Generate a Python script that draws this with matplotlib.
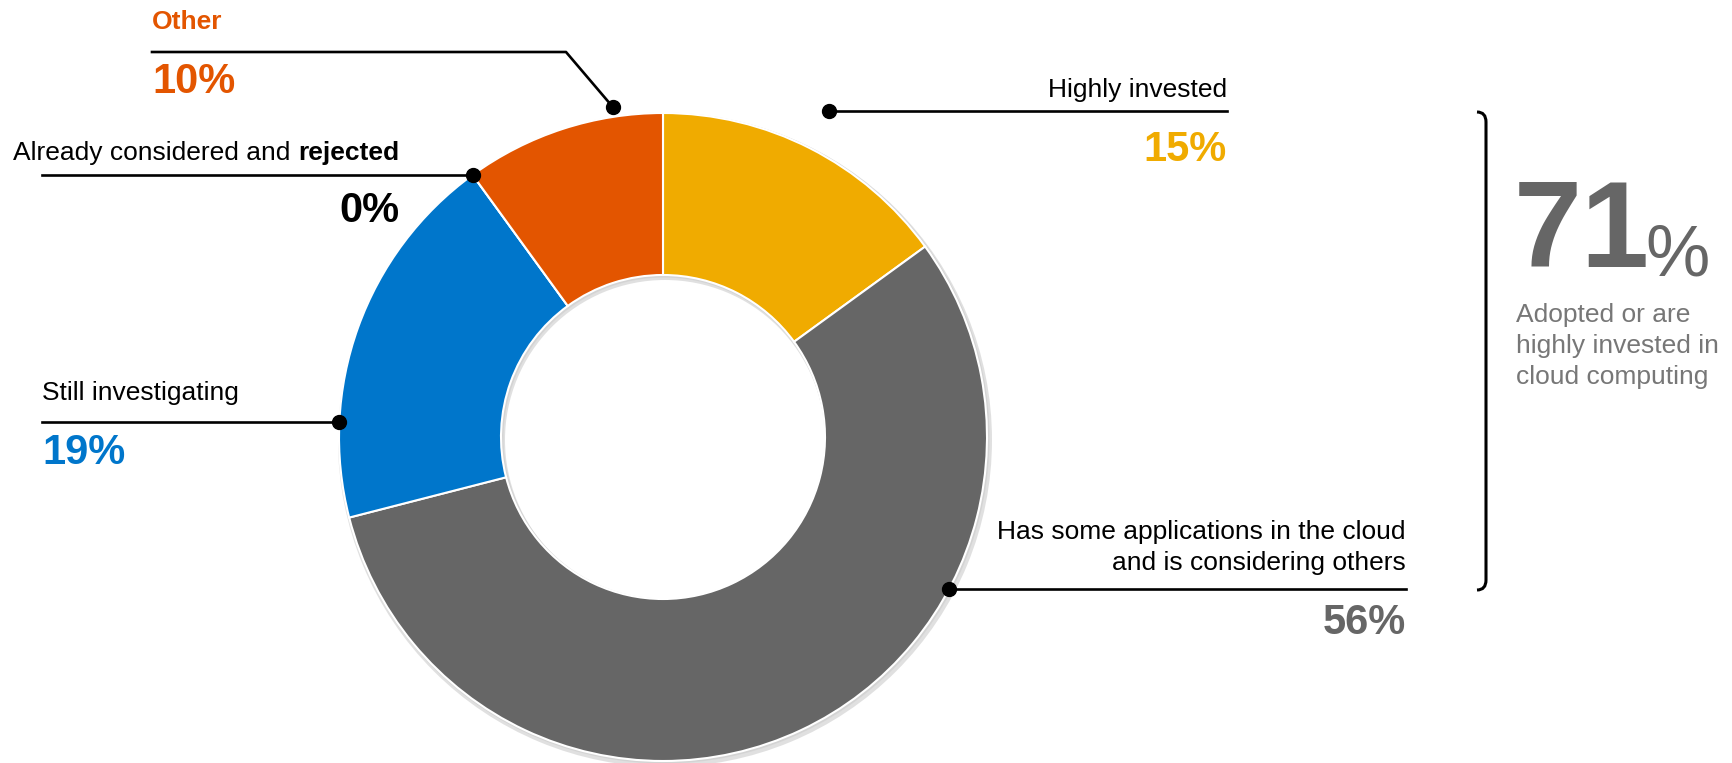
import numpy as np
import matplotlib.pyplot as plt
from matplotlib.patches import Wedge, PathPatch
from matplotlib.path import Path

plt.rcParams['font.family'] = ['Liberation Sans', 'DejaVu Sans']

# data
categories = ["Highly invested",
              "Has some applications in the cloud\nand is considering others",
              "Still investigating",
              "Already considered and rejected",
              "Other"]
shares = [15, 56, 19, 0, 10]
pct_labels = ["15%", "56%", "19%", "0%", "10%"]
adopted_note = "Adopted or are\nhighly invested in\ncloud computing"

colors = ['#F0AB00', '#666666', '#0076CB', '#000000', '#E35500']
pct_colors = ['#F0AB00', '#666666', '#0076CB', '#000000', '#E35500']

W, H = 1733, 763
cx, cy, R = 663, H - 437, 324

fig = plt.figure(figsize=(W / 100, H / 100), dpi=100)
ax = fig.add_axes([0, 0, 1, 1])

# soft shadow behind the ring
ax.add_patch(Wedge((cx + 2, cy - 3), R + 3, 0, 360, width=R * 0.5 + 5,
                   facecolor='#9a9a9a', edgecolor='none', alpha=0.3, zorder=0))
ax.add_patch(Wedge((cx + 1, cy - 1), R + 1.5, 0, 360, width=R * 0.5 + 3,
                   facecolor='#c8c8c8', edgecolor='none', alpha=0.5, zorder=0))

ax.pie(shares, colors=colors, radius=R, center=(cx, cy), startangle=90,
       counterclock=False,
       wedgeprops=dict(width=R * 0.5, edgecolor='white', linewidth=1.5))

ax.set_xlim(0, W)
ax.set_ylim(0, H)
ax.axis('off')

total = sum(shares)
cum = np.concatenate([[0], np.cumsum(shares)])
start = 90 - 360 * cum[:-1] / total
span = 360 * np.array(shares) / total


def dot_pos(i, frac, rfac):
    a = np.radians(start[i] - frac * span[i])
    return cx + rfac * R * np.cos(a), cy + rfac * R * np.sin(a)


LW = 1.9
FS = 19
PFS = 30

# Highly invested
x0, y0 = dot_pos(0, 0.5, 1.13)
ax.plot([x0, 1227], [y0, y0], color='black', lw=LW)
ax.plot(x0, y0, 'o', color='black', ms=10)
ax.text(1227, y0 + 14, categories[0], ha='right', va='baseline', fontsize=FS)
ax.text(1227, y0 - 50, pct_labels[0], ha='right', va='baseline', fontsize=PFS,
        fontweight='bold', color=pct_colors[0])

# Has some applications
x0, y0 = dot_pos(1, 0.317, 1.0)
ax.plot([x0, 1406], [y0, y0], color='black', lw=LW)
ax.plot(x0, y0, 'o', color='black', ms=10)
for k, line in enumerate(reversed(categories[1].split('\n'))):
    ax.text(1406, y0 + 19 + 31 * k, line, ha='right', va='baseline', fontsize=FS)
ax.text(1406, y0 - 45, pct_labels[1], ha='right', va='baseline', fontsize=PFS,
        fontweight='bold', color=pct_colors[1])

# Still investigating
x0, y0 = dot_pos(2, 0.25, 1.0)
ax.plot([42, x0], [y0, y0], color='black', lw=LW)
ax.plot(x0, y0, 'o', color='black', ms=10)
ax.text(42, y0 + 22, categories[2], ha='left', va='baseline', fontsize=FS)
ax.text(42, y0 - 42, pct_labels[2], ha='left', va='baseline', fontsize=PFS,
        fontweight='bold', color=pct_colors[2])

# Already considered and rejected
x0, y0 = dot_pos(3, 0.0, 1.0)
ax.plot([42, x0], [y0, y0], color='black', lw=LW)
ax.plot(x0, y0, 'o', color='black', ms=10)
words = categories[3].rsplit(' ', 1)
t1 = ax.text(13, y0 + 15, words[0] + ' ', ha='left', va='baseline', fontsize=FS)
ax.annotate(words[1], xy=(1, 0), xycoords=t1, ha='left', va='bottom',
            fontsize=FS, fontweight='bold')
ax.text(400, y0 - 47, pct_labels[3], ha='right', va='baseline', fontsize=PFS,
        fontweight='bold', color=pct_colors[3])

# Other
x0, y0 = dot_pos(4, 0.76, 1.03)
ly = H - 52
ax.plot([152, 566, x0], [ly, ly, y0], color='black', lw=LW)
ax.plot(x0, y0, 'o', color='black', ms=10)
ax.text(152, ly + 23, categories[4], ha='left', va='baseline', fontsize=FS,
        fontweight='bold', color=pct_colors[4])
ax.text(152, ly - 41, pct_labels[4], ha='left', va='baseline', fontsize=PFS,
        fontweight='bold', color=pct_colors[4])

# bracket on the right
bx, btop, bbot = 1486, H - 112, H - 590
verts = [(bx - 9, btop), (bx, btop), (bx, btop - 10),
         (bx, bbot + 10), (bx, bbot), (bx - 9, bbot)]
codes = [Path.MOVETO, Path.CURVE3, Path.CURVE3,
         Path.LINETO, Path.CURVE3, Path.CURVE3]
ax.add_patch(PathPatch(Path(verts, codes), facecolor='none', edgecolor='black',
                       lw=2.2))

# 71% callout
adopted = shares[0] + shares[1]
big = ax.text(1514, H - 267, str(adopted), ha='left', va='baseline',
              fontsize=88, fontweight='bold', color='#666666')
ax.annotate('%', xy=(1, 0), xycoords=big, xytext=(-3, 1),
            textcoords='offset points', ha='left', va='bottom',
            fontsize=52, color='#666666')
for k, line in enumerate(adopted_note.split('\n')):
    ax.text(1516, H - 322 - 31 * k, line, ha='left', va='baseline',
            fontsize=FS, color='#777777')

fig.savefig('out.png', dpi=100)
